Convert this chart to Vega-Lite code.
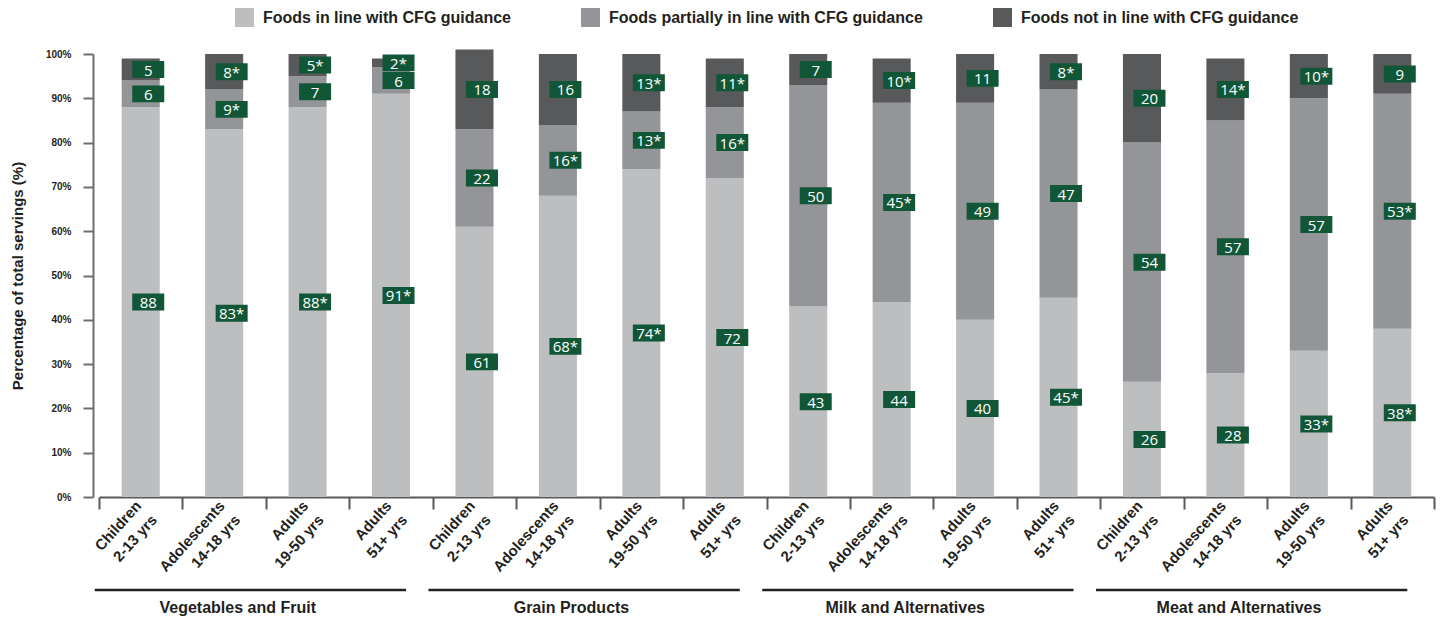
{
  "$schema": "https://vega.github.io/schema/vega-lite/v6.json",
  "padding": {"left": 10, "top": 8, "right": 5, "bottom": 5},
  "config": {
    "view": {"stroke": null},
    "font": "Liberation Sans",
    "legend": {"layout": {"top": {"anchor": "middle"}}}
  },
  "datasets": {
    "servings": [
      {"group": "Vegetables and Fruit", "bar": "Vegetables and Fruit / Children / 2-13 yrs", "cat": "Foods in line with CFG guidance", "level": 1, "value": 88, "label": "88"},
      {"group": "Vegetables and Fruit", "bar": "Vegetables and Fruit / Children / 2-13 yrs", "cat": "Foods partially in line with CFG guidance", "level": 2, "value": 6, "label": "6"},
      {"group": "Vegetables and Fruit", "bar": "Vegetables and Fruit / Children / 2-13 yrs", "cat": "Foods not in line with CFG guidance", "level": 3, "value": 5, "label": "5"},
      {"group": "Vegetables and Fruit", "bar": "Vegetables and Fruit / Adolescents / 14-18 yrs", "cat": "Foods in line with CFG guidance", "level": 1, "value": 83, "label": "83*"},
      {"group": "Vegetables and Fruit", "bar": "Vegetables and Fruit / Adolescents / 14-18 yrs", "cat": "Foods partially in line with CFG guidance", "level": 2, "value": 9, "label": "9*"},
      {"group": "Vegetables and Fruit", "bar": "Vegetables and Fruit / Adolescents / 14-18 yrs", "cat": "Foods not in line with CFG guidance", "level": 3, "value": 8, "label": "8*"},
      {"group": "Vegetables and Fruit", "bar": "Vegetables and Fruit / Adults / 19-50 yrs", "cat": "Foods in line with CFG guidance", "level": 1, "value": 88, "label": "88*"},
      {"group": "Vegetables and Fruit", "bar": "Vegetables and Fruit / Adults / 19-50 yrs", "cat": "Foods partially in line with CFG guidance", "level": 2, "value": 7, "label": "7"},
      {"group": "Vegetables and Fruit", "bar": "Vegetables and Fruit / Adults / 19-50 yrs", "cat": "Foods not in line with CFG guidance", "level": 3, "value": 5, "label": "5*"},
      {"group": "Vegetables and Fruit", "bar": "Vegetables and Fruit / Adults / 51+ yrs", "cat": "Foods in line with CFG guidance", "level": 1, "value": 91, "label": "91*"},
      {"group": "Vegetables and Fruit", "bar": "Vegetables and Fruit / Adults / 51+ yrs", "cat": "Foods partially in line with CFG guidance", "level": 2, "value": 6, "label": "6"},
      {"group": "Vegetables and Fruit", "bar": "Vegetables and Fruit / Adults / 51+ yrs", "cat": "Foods not in line with CFG guidance", "level": 3, "value": 2, "label": "2*"},

      {"group": "Grain Products", "bar": "Grain Products / Children / 2-13 yrs", "cat": "Foods in line with CFG guidance", "level": 1, "value": 61, "label": "61"},
      {"group": "Grain Products", "bar": "Grain Products / Children / 2-13 yrs", "cat": "Foods partially in line with CFG guidance", "level": 2, "value": 22, "label": "22"},
      {"group": "Grain Products", "bar": "Grain Products / Children / 2-13 yrs", "cat": "Foods not in line with CFG guidance", "level": 3, "value": 18, "label": "18"},
      {"group": "Grain Products", "bar": "Grain Products / Adolescents / 14-18 yrs", "cat": "Foods in line with CFG guidance", "level": 1, "value": 68, "label": "68*"},
      {"group": "Grain Products", "bar": "Grain Products / Adolescents / 14-18 yrs", "cat": "Foods partially in line with CFG guidance", "level": 2, "value": 16, "label": "16*"},
      {"group": "Grain Products", "bar": "Grain Products / Adolescents / 14-18 yrs", "cat": "Foods not in line with CFG guidance", "level": 3, "value": 16, "label": "16"},
      {"group": "Grain Products", "bar": "Grain Products / Adults / 19-50 yrs", "cat": "Foods in line with CFG guidance", "level": 1, "value": 74, "label": "74*"},
      {"group": "Grain Products", "bar": "Grain Products / Adults / 19-50 yrs", "cat": "Foods partially in line with CFG guidance", "level": 2, "value": 13, "label": "13*"},
      {"group": "Grain Products", "bar": "Grain Products / Adults / 19-50 yrs", "cat": "Foods not in line with CFG guidance", "level": 3, "value": 13, "label": "13*"},
      {"group": "Grain Products", "bar": "Grain Products / Adults / 51+ yrs", "cat": "Foods in line with CFG guidance", "level": 1, "value": 72, "label": "72"},
      {"group": "Grain Products", "bar": "Grain Products / Adults / 51+ yrs", "cat": "Foods partially in line with CFG guidance", "level": 2, "value": 16, "label": "16*"},
      {"group": "Grain Products", "bar": "Grain Products / Adults / 51+ yrs", "cat": "Foods not in line with CFG guidance", "level": 3, "value": 11, "label": "11*"},

      {"group": "Milk and Alternatives", "bar": "Milk and Alternatives / Children / 2-13 yrs", "cat": "Foods in line with CFG guidance", "level": 1, "value": 43, "label": "43"},
      {"group": "Milk and Alternatives", "bar": "Milk and Alternatives / Children / 2-13 yrs", "cat": "Foods partially in line with CFG guidance", "level": 2, "value": 50, "label": "50"},
      {"group": "Milk and Alternatives", "bar": "Milk and Alternatives / Children / 2-13 yrs", "cat": "Foods not in line with CFG guidance", "level": 3, "value": 7, "label": "7"},
      {"group": "Milk and Alternatives", "bar": "Milk and Alternatives / Adolescents / 14-18 yrs", "cat": "Foods in line with CFG guidance", "level": 1, "value": 44, "label": "44"},
      {"group": "Milk and Alternatives", "bar": "Milk and Alternatives / Adolescents / 14-18 yrs", "cat": "Foods partially in line with CFG guidance", "level": 2, "value": 45, "label": "45*"},
      {"group": "Milk and Alternatives", "bar": "Milk and Alternatives / Adolescents / 14-18 yrs", "cat": "Foods not in line with CFG guidance", "level": 3, "value": 10, "label": "10*"},
      {"group": "Milk and Alternatives", "bar": "Milk and Alternatives / Adults / 19-50 yrs", "cat": "Foods in line with CFG guidance", "level": 1, "value": 40, "label": "40"},
      {"group": "Milk and Alternatives", "bar": "Milk and Alternatives / Adults / 19-50 yrs", "cat": "Foods partially in line with CFG guidance", "level": 2, "value": 49, "label": "49"},
      {"group": "Milk and Alternatives", "bar": "Milk and Alternatives / Adults / 19-50 yrs", "cat": "Foods not in line with CFG guidance", "level": 3, "value": 11, "label": "11"},
      {"group": "Milk and Alternatives", "bar": "Milk and Alternatives / Adults / 51+ yrs", "cat": "Foods in line with CFG guidance", "level": 1, "value": 45, "label": "45*"},
      {"group": "Milk and Alternatives", "bar": "Milk and Alternatives / Adults / 51+ yrs", "cat": "Foods partially in line with CFG guidance", "level": 2, "value": 47, "label": "47"},
      {"group": "Milk and Alternatives", "bar": "Milk and Alternatives / Adults / 51+ yrs", "cat": "Foods not in line with CFG guidance", "level": 3, "value": 8, "label": "8*"},

      {"group": "Meat and Alternatives", "bar": "Meat and Alternatives / Children / 2-13 yrs", "cat": "Foods in line with CFG guidance", "level": 1, "value": 26, "label": "26"},
      {"group": "Meat and Alternatives", "bar": "Meat and Alternatives / Children / 2-13 yrs", "cat": "Foods partially in line with CFG guidance", "level": 2, "value": 54, "label": "54"},
      {"group": "Meat and Alternatives", "bar": "Meat and Alternatives / Children / 2-13 yrs", "cat": "Foods not in line with CFG guidance", "level": 3, "value": 20, "label": "20"},
      {"group": "Meat and Alternatives", "bar": "Meat and Alternatives / Adolescents / 14-18 yrs", "cat": "Foods in line with CFG guidance", "level": 1, "value": 28, "label": "28"},
      {"group": "Meat and Alternatives", "bar": "Meat and Alternatives / Adolescents / 14-18 yrs", "cat": "Foods partially in line with CFG guidance", "level": 2, "value": 57, "label": "57"},
      {"group": "Meat and Alternatives", "bar": "Meat and Alternatives / Adolescents / 14-18 yrs", "cat": "Foods not in line with CFG guidance", "level": 3, "value": 14, "label": "14*"},
      {"group": "Meat and Alternatives", "bar": "Meat and Alternatives / Adults / 19-50 yrs", "cat": "Foods in line with CFG guidance", "level": 1, "value": 33, "label": "33*"},
      {"group": "Meat and Alternatives", "bar": "Meat and Alternatives / Adults / 19-50 yrs", "cat": "Foods partially in line with CFG guidance", "level": 2, "value": 57, "label": "57"},
      {"group": "Meat and Alternatives", "bar": "Meat and Alternatives / Adults / 19-50 yrs", "cat": "Foods not in line with CFG guidance", "level": 3, "value": 10, "label": "10*"},
      {"group": "Meat and Alternatives", "bar": "Meat and Alternatives / Adults / 51+ yrs", "cat": "Foods in line with CFG guidance", "level": 1, "value": 38, "label": "38*"},
      {"group": "Meat and Alternatives", "bar": "Meat and Alternatives / Adults / 51+ yrs", "cat": "Foods partially in line with CFG guidance", "level": 2, "value": 53, "label": "53*"},
      {"group": "Meat and Alternatives", "bar": "Meat and Alternatives / Adults / 51+ yrs", "cat": "Foods not in line with CFG guidance", "level": 3, "value": 9, "label": "9"}
    ],
    "groups": [
      {"group": "Vegetables and Fruit", "first": "Vegetables and Fruit / Children / 2-13 yrs", "last": "Vegetables and Fruit / Adults / 51+ yrs"},
      {"group": "Grain Products", "first": "Grain Products / Children / 2-13 yrs", "last": "Grain Products / Adults / 51+ yrs"},
      {"group": "Milk and Alternatives", "first": "Milk and Alternatives / Children / 2-13 yrs", "last": "Milk and Alternatives / Adults / 51+ yrs"},
      {"group": "Meat and Alternatives", "first": "Meat and Alternatives / Children / 2-13 yrs", "last": "Meat and Alternatives / Adults / 51+ yrs"}
    ]
  },
  "width": 1335,
  "height": 443,
  "layer": [
    {
      "data": {"name": "servings"},
      "mark": {"type": "bar", "width": {"band": 0.456}},
      "encoding": {
        "x": {
          "field": "bar", "type": "nominal",
          "scale": {
            "domain": [
              "Vegetables and Fruit / Children / 2-13 yrs", "Vegetables and Fruit / Adolescents / 14-18 yrs", "Vegetables and Fruit / Adults / 19-50 yrs", "Vegetables and Fruit / Adults / 51+ yrs",
              "Grain Products / Children / 2-13 yrs", "Grain Products / Adolescents / 14-18 yrs", "Grain Products / Adults / 19-50 yrs", "Grain Products / Adults / 51+ yrs",
              "Milk and Alternatives / Children / 2-13 yrs", "Milk and Alternatives / Adolescents / 14-18 yrs", "Milk and Alternatives / Adults / 19-50 yrs", "Milk and Alternatives / Adults / 51+ yrs",
              "Meat and Alternatives / Children / 2-13 yrs", "Meat and Alternatives / Adolescents / 14-18 yrs", "Meat and Alternatives / Adults / 19-50 yrs", "Meat and Alternatives / Adults / 51+ yrs"
            ],
            "paddingInner": 0, "paddingOuter": 0
          },
          "axis": {
            "title": null,
            "labelExpr": "slice(split(datum.value, ' / '), 1)",
            "labelAngle": -48, "labelAlign": "right", "labelBaseline": "top",
            "labelFont": "Liberation Sans", "labelFontSize": 15, "labelFontWeight": "bold", "labelColor": "#231f20",
            "labelLineHeight": 21, "labelPadding": -11, "labelOffset": -8, "labelOverlap": false,
            "tickSize": 12, "tickBand": "extent", "tickColor": "#58595b", "tickWidth": 2,
            "domainColor": "#58595b", "domainWidth": 2
          }
        },
        "y": {
          "field": "value", "type": "quantitative", "stack": "zero",
          "scale": {"domain": [0, 100]},
          "axis": {
            "title": "Percentage of total servings (%)",
            "titleFont": "Liberation Sans", "titleFontSize": 15, "titleFontWeight": "bold", "titleColor": "#231f20", "titlePadding": 20,
            "values": [0, 10, 20, 30, 40, 50, 60, 70, 80, 90, 100],
            "labelExpr": "datum.value + '%'",
            "labelFont": "Liberation Sans", "labelFontSize": 10, "labelFontWeight": "bold", "labelColor": "#231f20", "labelPadding": 12,
            "tickSize": 10, "tickColor": "#6d6e71", "tickWidth": 2,
            "domainColor": "#6d6e71", "domainWidth": 2, "grid": false, "offset": 6
          }
        },
        "color": {
          "field": "cat", "type": "nominal",
          "scale": {
            "domain": ["Foods in line with CFG guidance", "Foods partially in line with CFG guidance", "Foods not in line with CFG guidance"],
            "range": ["#bcbec0", "#939598", "#58595b"]
          },
          "legend": {
            "orient": "top", "direction": "horizontal", "title": null,
            "symbolType": "square", "symbolSize": 361, "symbolStrokeWidth": 0, "symbolOpacity": 1,
            "labelFont": "Liberation Sans", "labelFontSize": 16, "labelFontWeight": "bold", "labelColor": "#231f20",
            "labelOffset": 9, "columnPadding": 70, "offset": 27, "labelLimit": 400
          }
        },
        "order": {"field": "level", "type": "quantitative", "sort": "ascending"}
      }
    },
    {
      "data": {"name": "servings"},
      "mark": {"type": "point", "shape": "M-1,-0.53L1,-0.53L1,0.53L-1,0.53Z", "size": 1024, "filled": true, "opacity": 1, "color": "#115737", "strokeWidth": 0, "xOffset": 7.5},
      "encoding": {
        "x": {"field": "bar", "type": "nominal"},
        "y": {"field": "value", "type": "quantitative", "stack": "zero", "bandPosition": 0.5},
        "detail": {"field": "cat", "type": "nominal"},
        "order": {"field": "level", "type": "quantitative", "sort": "ascending"}
      }
    },
    {
      "data": {"name": "servings"},
      "mark": {"type": "text", "font": "Open Sans", "fontSize": 15, "color": "#ffffff", "align": "center", "baseline": "middle", "dx": 7.5, "dy": 1},
      "encoding": {
        "x": {"field": "bar", "type": "nominal"},
        "y": {"field": "value", "type": "quantitative", "stack": "zero", "bandPosition": 0.5},
        "detail": {"field": "cat", "type": "nominal"},
        "order": {"field": "level", "type": "quantitative", "sort": "ascending"},
        "text": {"field": "label", "type": "nominal"}
      }
    },
    {
      "data": {"name": "groups"},
      "mark": {"type": "rule", "strokeWidth": 2.5, "color": "#231f20", "xOffset": -46, "x2Offset": 15},
      "encoding": {
        "x": {"field": "first", "type": "nominal"},
        "x2": {"field": "last"},
        "y": {"datum": -21, "type": "quantitative"}
      }
    },
    {
      "data": {"name": "groups"},
      "mark": {"type": "text", "font": "Liberation Sans", "fontSize": 16, "fontWeight": "bold", "color": "#231f20", "align": "center", "baseline": "middle", "dx": 97},
      "encoding": {
        "x": {"field": "first", "type": "nominal"},
        "y": {"datum": -25, "type": "quantitative"},
        "text": {"field": "group", "type": "nominal"}
      }
    }
  ]
}
